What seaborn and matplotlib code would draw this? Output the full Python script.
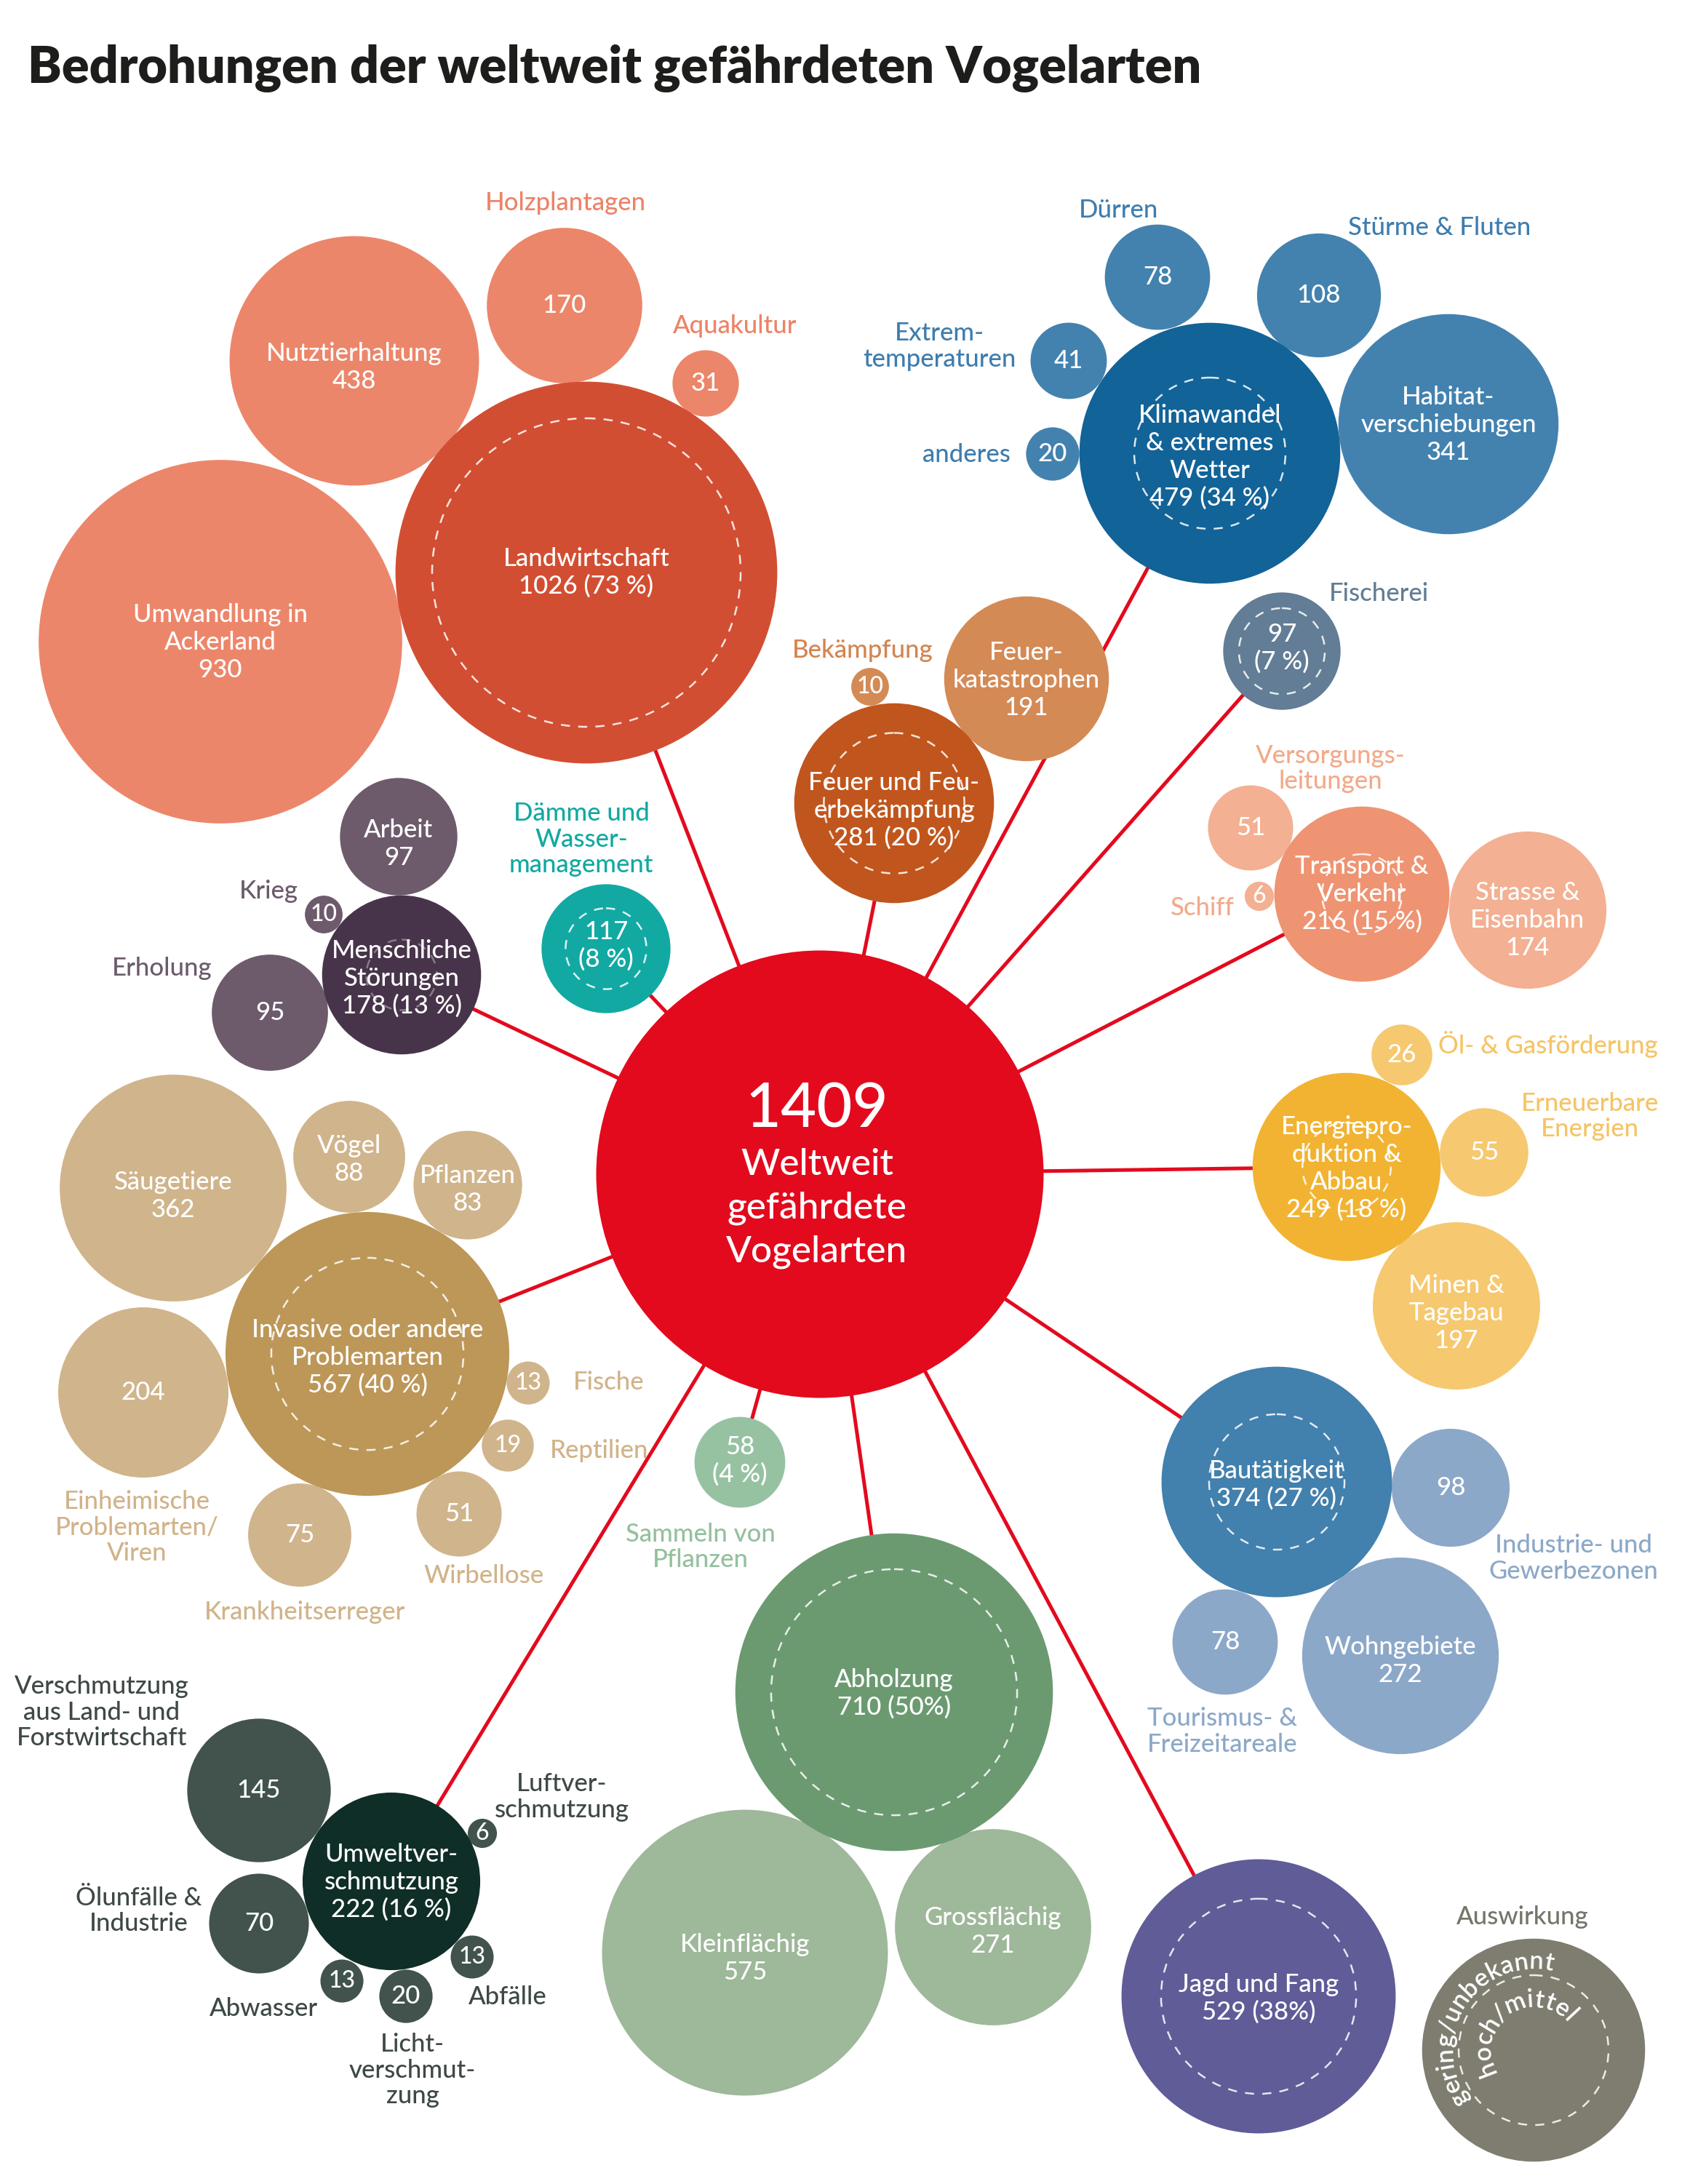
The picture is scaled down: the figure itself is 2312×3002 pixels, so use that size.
import numpy as np
import pandas as pd
import matplotlib
matplotlib.use("Agg")
import matplotlib.pyplot as plt
import seaborn as sns
from matplotlib.patches import Circle
from matplotlib.font_manager import FontProperties
from matplotlib.textpath import TextToPath

sns.set_theme(style="white")
plt.rcParams["font.family"] = ["Lato", "DejaVu Sans"]

# ---------------------------------------------------------------- data
TITLE = "Bedrohungen der weltweit gefährdeten Vogelarten"
TOTAL = 1409
TOTAL_TEXT = ["Weltweit", "gefährdete", "Vogelarten"]

group_ids = ["agri", "klima", "fisch", "feuer", "transport", "energie", "bau",
             "jagd", "holz", "sammeln", "umwelt", "invasiv", "stoer", "daemme"]
group_names = ["Landwirtschaft", "Klimawandel\n& extremes\nWetter", "Fischerei",
               "Feuer und Feu-\nerbekämpfung", "Transport &\nVerkehr",
               "Energiepro-\nduktion &\nAbbau", "Bautätigkeit", "Jagd und Fang",
               "Abholzung", "Sammeln von\nPflanzen", "Umweltver-\nschmutzung",
               "Invasive oder andere\nProblemarten", "Menschliche\nStörungen",
               "Dämme und\nWasser-\nmanagement"]
group_values = [1026, 479, 97, 281, 216, 249, 374, 529, 710, 58, 222, 567, 178, 117]
group_pct = ["73 %", "34 %", "7 %", "20 %", "15 %", "18 %", "27 %", "38%", "50%",
             "4 %", "16 %", "40 %", "13 %", "8 %"]
# estimated number with high/medium impact (inner dashed circle)
group_high = [670, 161, 52, 139, 45, 55, 129, 268, 426, 0, 0, 260, 35, 46]

sub_ids = ["ackerland", "nutztier", "holzpl", "aqua",
           "duerren", "stuerme", "habitat", "extrem", "anderes",
           "feuerkat", "bekaempf",
           "versorg", "schiff", "strasse",
           "oelgas", "erneuer", "minen",
           "industrie", "wohn", "tourismus",
           "kleinfl", "grossfl",
           "landforst", "oelunf", "luft", "abfaelle", "abwasser", "licht",
           "saeuger", "voegel", "pflanzen", "einheim", "fische", "reptilien",
           "wirbellose", "krankheit",
           "arbeit", "krieg", "erholung"]
sub_parent = (["agri"] * 4 + ["klima"] * 5 + ["feuer"] * 2 + ["transport"] * 3
              + ["energie"] * 3 + ["bau"] * 3 + ["holz"] * 2 + ["umwelt"] * 6
              + ["invasiv"] * 8 + ["stoer"] * 3)
sub_names = ["Umwandlung in\nAckerland", "Nutztierhaltung", "Holzplantagen", "Aquakultur",
             "Dürren", "Stürme & Fluten", "Habitat-\nverschiebungen",
             "Extrem-\ntemperaturen", "anderes",
             "Feuer-\nkatastrophen", "Bekämpfung",
             "Versorgungs-\nleitungen", "Schiff", "Strasse &\nEisenbahn",
             "Öl- & Gasförderung", "Erneuerbare\nEnergien", "Minen &\nTagebau",
             "Industrie- und\nGewerbezonen", "Wohngebiete", "Tourismus- &\nFreizeitareale",
             "Kleinflächig", "Grossflächig",
             "Verschmutzung\naus Land- und\nForstwirtschaft", "Ölunfälle &\nIndustrie",
             "Luftver-\nschmutzung", "Abfälle", "Abwasser", "Licht-\nverschmut-\nzung",
             "Säugetiere", "Vögel", "Pflanzen", "Einheimische\nProblemarten/\nViren",
             "Fische", "Reptilien", "Wirbellose", "Krankheitserreger",
             "Arbeit", "Krieg", "Erholung"]
sub_values = [930, 438, 170, 31, 78, 108, 341, 41, 20, 191, 10, 51, 6, 174,
              26, 55, 197, 98, 272, 78, 575, 271, 145, 70, 6, 13, 13, 20,
              362, 88, 83, 204, 13, 19, 51, 75, 97, 10, 95]

LEGEND_TITLE = "Auswirkung"
LEGEND_OUTER_TEXT = "gering/unbekannt"
LEGEND_INNER_TEXT = "hoch/mittel"
legend_values = [350, 158]   # sample sizes of the legend bubble (outer / inner)

# ---------------------------------------------------------------- layout (pixels)
W, H = 2312, 3002
CENTER = (1127, 1614)
LEGEND_POS = (2108, 2818)

group_pos = {
    "agri": (806, 787, 0), "klima": (1663, 623, 5), "fisch": (1762, 895, -4),
    "feuer": (1229, 1104, 10), "transport": (1872, 1229, 0), "energie": (1851, 1604, 2),
    "bau": (1755, 2037, 4), "jagd": (1730, 2744, 3), "holz": (1229, 2326, 2),
    "sammeln": (1017, 2010, -2), "umwelt": (538, 2586, 1), "invasiv": (505, 1861, 5),
    "stoer": (552, 1340, 5), "daemme": (833, 1304, -4),
}
group_outside = {"fisch": (1895, 816, "center"), "sammeln": (963, 2109, "center"),
                 "daemme": (799, 1118, "center")}

sub_pos = {
    "ackerland": (303, 882), "nutztier": (487, 496), "holzpl": (776, 420), "aqua": (970, 527),
    "duerren": (1591, 381), "stuerme": (1813, 406), "habitat": (1991, 583),
    "extrem": (1469, 496), "anderes": (1447, 624),
    "feuerkat": (1411, 933), "bekaempf": (1196, 944),
    "versorg": (1719, 1138), "schiff": (1731, 1232), "strasse": (2100, 1251),
    "oelgas": (1927, 1450), "erneuer": (2040, 1584), "minen": (2002, 1795),
    "industrie": (1994, 2045), "wohn": (1925, 2276), "tourismus": (1684, 2257),
    "kleinfl": (1024, 2684), "grossfl": (1365, 2649),
    "landforst": (356, 2461), "oelunf": (356, 2644), "luft": (663, 2520),
    "abfaelle": (649, 2690), "abwasser": (470, 2723), "licht": (558, 2744),
    "saeuger": (238, 1633), "voegel": (480, 1590), "pflanzen": (643, 1629),
    "einheim": (197, 1914), "fische": (726, 1901), "reptilien": (698, 1987),
    "wirbellose": (631, 2081), "krankheit": (412, 2110),
    "arbeit": (548, 1150), "krieg": (445, 1257), "erholung": (371, 1392),
}
# ("in", dy) -> name inside circle ; ("out", x, y, ha) -> name outside
sub_label = {
    "ackerland": ("in", 1), "nutztier": ("in", 9), "holzpl": ("out", 777, 279, "center"),
    "aqua": ("out", 1010, 448, "center"), "duerren": ("out", 1538, 289, "center"),
    "stuerme": ("out", 1979, 313, "center"), "habitat": ("in", 1),
    "extrem": ("out", 1291, 458, "center"), "anderes": ("out", 1389, 625, "right"),
    "feuerkat": ("in", 2), "bekaempf": ("out", 1186, 894, "center"),
    "versorg": ("out", 1829, 1039, "center"), "schiff": ("out", 1653, 1248, "center"),
    "strasse": ("in", 14), "oelgas": ("out", 1977, 1435, "left"),
    "erneuer": ("out", 2185, 1517, "center"), "minen": ("in", 10),
    "industrie": ("out", 2163, 2124, "center"), "wohn": ("in", 7),
    "tourismus": ("out", 1680, 2362, "center"), "kleinfl": ("in", 8), "grossfl": ("in", 6),
    "landforst": ("out", 140, 2318, "center"), "oelunf": ("out", 191, 2609, "center"),
    "luft": ("out", 772, 2452, "center"), "abfaelle": ("out", 698, 2745, "center"),
    "abwasser": ("out", 363, 2761, "center"), "licht": ("out", 567, 2810, "center"),
    "saeuger": ("in", 11), "voegel": ("in", 4), "pflanzen": ("in", 6),
    "einheim": ("out", 188, 2064, "center"), "fische": ("out", 837, 1900, "center"),
    "reptilien": ("out", 824, 1994, "center"), "wirbellose": ("out", 665, 2166, "center"),
    "krankheit": ("out", 419, 2216, "center"), "arbeit": ("in", 10),
    "krieg": ("out", 369, 1225, "center"), "erholung": ("out", 223, 1331, "center"),
}

# ---------------------------------------------------------------- styles
RED = "#E30A1E"
group_color = {"agri": "#D24E32", "klima": "#126398", "fisch": "#627D95", "feuer": "#C0561D",
               "transport": "#EE9472", "energie": "#F1B331", "bau": "#4280AD", "jagd": "#5F5C98",
               "holz": "#6B9A71", "sammeln": "#97C2A2", "umwelt": "#0F2E27", "invasiv": "#BD9758",
               "stoer": "#48344A", "daemme": "#12A9A3"}
sub_color = {"agri": "#EC866A", "klima": "#4382AF", "feuer": "#D48A55", "transport": "#F3B092",
             "energie": "#F6C86F", "bau": "#8CA8C8", "holz": "#9EB89A", "umwelt": "#41534C",
             "invasiv": "#D0B48B", "stoer": "#6D5B6C"}
label_color = {"agri": "#EC8367", "klima": "#3E7DAE", "fisch": "#627D95", "feuer": "#D4844F",
               "transport": "#F2AA8B", "energie": "#F5C466", "bau": "#8CA8C8", "holz": "#6B9A71",
               "umwelt": "#3E4944", "invasiv": "#D1B38A", "stoer": "#6B5B6C",
               "sammeln": "#95C09E", "daemme": "#12A9A3"}
LEGEND_COLOR = "#7F7D70"
FS = 25
WT = "medium"
LS_IN = 38
LS_OUT = 35.5

R_TOTAL = 307.5                      # pixel radius of the 1409 bubble
K = R_TOTAL / np.sqrt(TOTAL)         # px per sqrt(value)
S_MAX = (2 * R_TOTAL * 72 / 100) ** 2  # marker area (pt^2) for TOTAL

# ---------------------------------------------------------------- figure
fig = plt.figure(figsize=(W / 100, H / 100), dpi=100)
ax = fig.add_axes([0, 0, 1, 1])
ax.set_xlim(0, W)
ax.set_ylim(H, 0)
ax.axis("off")

# connectors
for gid in group_ids:
    gx, gy, _ = group_pos[gid]
    ax.plot([CENTER[0], gx], [CENTER[1], gy], color=RED, lw=3.6, zorder=1,
            solid_capstyle="butt")

# bubbles: subs first, then groups, centre, legend
rows = []
for sid, par, v in zip(sub_ids, sub_parent, sub_values):
    x, y = sub_pos[sid]
    rows.append((sid, x, y, v, sub_color[par]))
for gid, v in zip(group_ids, group_values):
    x, y, _ = group_pos[gid]
    rows.append((gid, x, y, v, group_color[gid]))
rows.append(("total", CENTER[0], CENTER[1], TOTAL, RED))
rows.append(("legend", LEGEND_POS[0], LEGEND_POS[1], legend_values[0], LEGEND_COLOR))
df = pd.DataFrame(rows, columns=["id", "x", "y", "value", "color"])

sns.scatterplot(data=df, x="x", y="y", size="value", sizes=(0, S_MAX),
                size_norm=(0, TOTAL), hue="id", hue_order=list(df["id"]),
                palette=dict(zip(df["id"], df["color"])), legend=False,
                edgecolor="none", linewidth=0, marker="o", ax=ax, zorder=2)
ax.set_xlim(0, W)
ax.set_ylim(H, 0)
ax.axis("off")


def ring(x, y, v, alpha=0.85):
    if v <= 0:
        return
    ax.add_patch(Circle((x, y), K * np.sqrt(v), fill=False, ec=(1, 1, 1, alpha),
                        lw=1.8, ls=(0, (5, 4.5)), zorder=3))


for gid, hv in zip(group_ids, group_high):
    x, y, _ = group_pos[gid]
    ring(x, y, hv, alpha=0.35 if gid == "stoer" else 0.85)
ring(LEGEND_POS[0], LEGEND_POS[1], legend_values[1], 0.85)


def block(x, yc, lines, color, size=FS, ls=LS_IN, ha="center"):
    n = len(lines)
    for i, s in enumerate(lines):
        ax.text(x, yc + (i - (n - 1) / 2) * ls, s, ha=ha, va="center",
                color=color, fontsize=size, fontweight=WT, zorder=5)


def block_top(x, y0, lines, color, size=FS, ls=LS_OUT, ha="center"):
    for i, s in enumerate(lines):
        ax.text(x, y0 + i * ls, s, ha=ha, va="center", color=color,
                fontsize=size, fontweight=WT, zorder=5)


# group labels
for gid, name, v, pct in zip(group_ids, group_names, group_values, group_pct):
    x, y, dy = group_pos[gid]
    if gid in group_outside:
        lx, ly, ha = group_outside[gid]
        block_top(lx, ly, name.split("\n"), label_color[gid], ha=ha)
        block(x, y + dy, [str(v), f"({pct})"], "white")
    else:
        block(x, y + dy, name.split("\n") + [f"{v} ({pct})"], "white")

# sub labels
for sid, par, name, v in zip(sub_ids, sub_parent, sub_names, sub_values):
    x, y = sub_pos[sid]
    spec = sub_label[sid]
    if spec[0] == "in":
        block(x, y + spec[1], name.split("\n") + [str(v)], "white")
    else:
        _, lx, ly, ha = spec
        block_top(lx, ly, name.split("\n"), label_color[par], ha=ha)
        block(x, y, [str(v)], "white", size=FS if v >= 20 else 23)

# centre text
ax.text(1123, 1549, str(TOTAL), ha="center", va="baseline", color="white",
        fontsize=61, fontweight=WT, zorder=5)
for i, s in enumerate(TOTAL_TEXT):
    ax.text(1123, 1615 + i * 60, s, ha="center", va="baseline", color="white",
            fontsize=37, fontweight=WT, zorder=5)

# title, fitted to its width in the reference
title = ax.text(38, 114, TITLE, ha="left", va="baseline", color="#1D1D1B",
                fontsize=46, fontweight="heavy", zorder=5)
fig.canvas.draw()
bb = title.get_window_extent(fig.canvas.get_renderer())
title.set_fontsize(46 * 1616 / bb.width)

# legend
ax.text(2093, 2635, LEGEND_TITLE, ha="center", va="center", color="#75756B",
        fontsize=FS, fontweight=WT, zorder=5)
ttp = TextToPath()


def arc_text(text, cx, cy, r, a_first, a_last, size, color):
    """Characters placed clockwise on a baseline circle of radius r (px)."""
    fp = FontProperties(family=["Lato", "DejaVu Sans"], size=size, weight="semibold")
    ws = [ttp.get_text_width_height_descent(c, fp, ismath=False)[0] * 100 / 72
          for c in text]
    r_mid = r + 0.25 * size * 100 / 72          # middle of the x-height
    span = np.radians(a_first - a_last) * r_mid
    base = sum((ws[i] + ws[i + 1]) / 2 for i in range(len(ws) - 1))
    g = max((span - base) / (len(ws) - 1), 1.0)
    d = 0.0
    for i, ch in enumerate(text):
        if i > 0:
            d += (ws[i - 1] + ws[i]) / 2 + g
        a = a_first - np.degrees(d / r_mid)
        x = cx + r * np.cos(np.radians(a))
        y = cy - r * np.sin(np.radians(a))
        ax.text(x, y, ch, fontproperties=fp, rotation=a - 90, rotation_mode="anchor",
                ha="center", va="baseline", color=color, zorder=5)


arc_text(LEGEND_OUTER_TEXT, LEGEND_POS[0], LEGEND_POS[1], 112, 213, 80, 25, "white")
arc_text(LEGEND_INNER_TEXT, LEGEND_POS[0], LEGEND_POS[1], 59, 201, 43, 25, "white")

fig.savefig("out.png", dpi=100, facecolor="white")
